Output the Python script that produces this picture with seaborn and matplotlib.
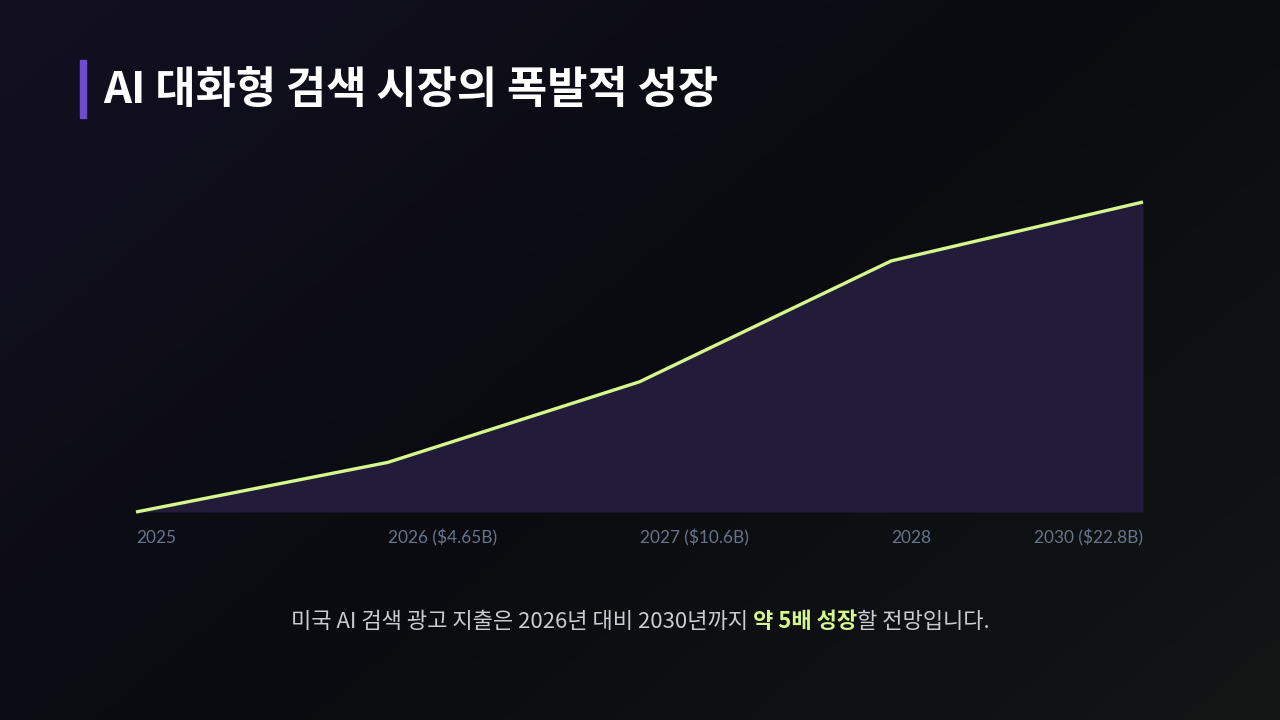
import numpy as np
import pandas as pd
import matplotlib
matplotlib.use("Agg")
import matplotlib.pyplot as plt
import seaborn as sns
from matplotlib.offsetbox import TextArea, HPacker, AnchoredOffsetbox

# ---- data ----
years = ["2025", "2026", "2027", "2028", "2030"]
tick_labels = ["2025", "2026 ($4.65B)", "2027 ($10.6B)", "2028", "2030 ($22.8B)"]
growth_index = [0, 16, 42, 81, 100]

title = "AI 대화형 검색 시장의 폭발적 성장"
caption_parts = ["미국 AI 검색 광고 지출은 2026년 대비 2030년까지 ", "약 5배 성장", "할 전망입니다."]

sns.set_theme(style="dark")
plt.rcParams["font.family"] = ["Noto Sans CJK KR", "DejaVu Sans"]

W, H = 1280, 720
fig = plt.figure(figsize=(12.8, 7.2), dpi=100)

# background gradient
bg = fig.add_axes([0, 0, 1, 1], zorder=-10)
yy, xx = np.mgrid[0:1:200j, 0:1:356j]
t = np.clip((xx * 0.6 + yy * 0.4), 0, 1)
c0 = np.array([0x13, 0x10, 0x22]) / 255
c1 = np.array([0x0a, 0x0b, 0x10]) / 255
c2 = np.array([0x12, 0x16, 0x15]) / 255
img = np.where(t[..., None] < 0.5,
               c0 + (c1 - c0) * (t[..., None] / 0.5),
               c1 + (c2 - c1) * ((t[..., None] - 0.5) / 0.5))
bg.imshow(img, aspect="auto", extent=[0, 1, 0, 1], origin="upper")
bg.set_axis_off()

# chart axes
x0, x1 = 136, 1143
yb, yt = 512, 202
ax = fig.add_axes([x0 / W, 1 - yb / H, (x1 - x0) / W, (yb - yt) / H])
ax.set_facecolor("none")
df = pd.DataFrame({"pos": np.arange(len(years)), "val": growth_index})
ax.fill_between(df["pos"], df["val"], 0, color="#221c3a", linewidth=0)
sns.lineplot(data=df, x="pos", y="val", ax=ax, color="#d6f78c", linewidth=2.4,
             solid_capstyle="butt", clip_on=False)
ax.set_xlim(0, len(years) - 1)
ax.set_ylim(0, 100)
ax.set_xticks([])
ax.set_yticks([])
ax.set_xlabel("")
ax.set_ylabel("")
for s in ax.spines.values():
    s.set_visible(False)
ax.grid(False)

# tick labels (baseline at y=543px)
label_y = -(543 - yb) / (yb - yt)
for i, lab in enumerate(tick_labels):
    ha = "right" if i == len(tick_labels) - 1 else "left"
    ax.text(i, label_y, lab, transform=ax.get_xaxis_transform(), ha=ha, va="baseline",
            fontsize=12.4, color="#67758b", family=["Lato", "DejaVu Sans"])

# title + accent bar
fig.patches.append(plt.Rectangle((80 / W, 1 - 118 / H), 6 / W, 58 / H,
                                 transform=fig.transFigure, color="#6f4bd0"))
fig.text(103 / W, 1 - 103 / H, title, fontsize=31.5, fontweight="bold",
         color="#ffffff", va="baseline", ha="left")

# caption
fs = 15.9
parts = [
    TextArea(caption_parts[0], textprops=dict(fontsize=fs, color="#c9ccd3")),
    TextArea(caption_parts[1], textprops=dict(fontsize=fs, color="#d6f78c", fontweight="bold")),
    TextArea(caption_parts[2], textprops=dict(fontsize=fs, color="#c9ccd3")),
]
box = HPacker(children=parts, align="baseline", pad=0, sep=0)
anch = AnchoredOffsetbox(loc="center", child=box, frameon=False,
                         bbox_to_anchor=(0.5, 1 - 621 / H),
                         bbox_transform=fig.transFigure, borderpad=0, pad=0)
fig.add_artist(anch)

fig.savefig("out.png", dpi=100, facecolor="#0b0c12")
